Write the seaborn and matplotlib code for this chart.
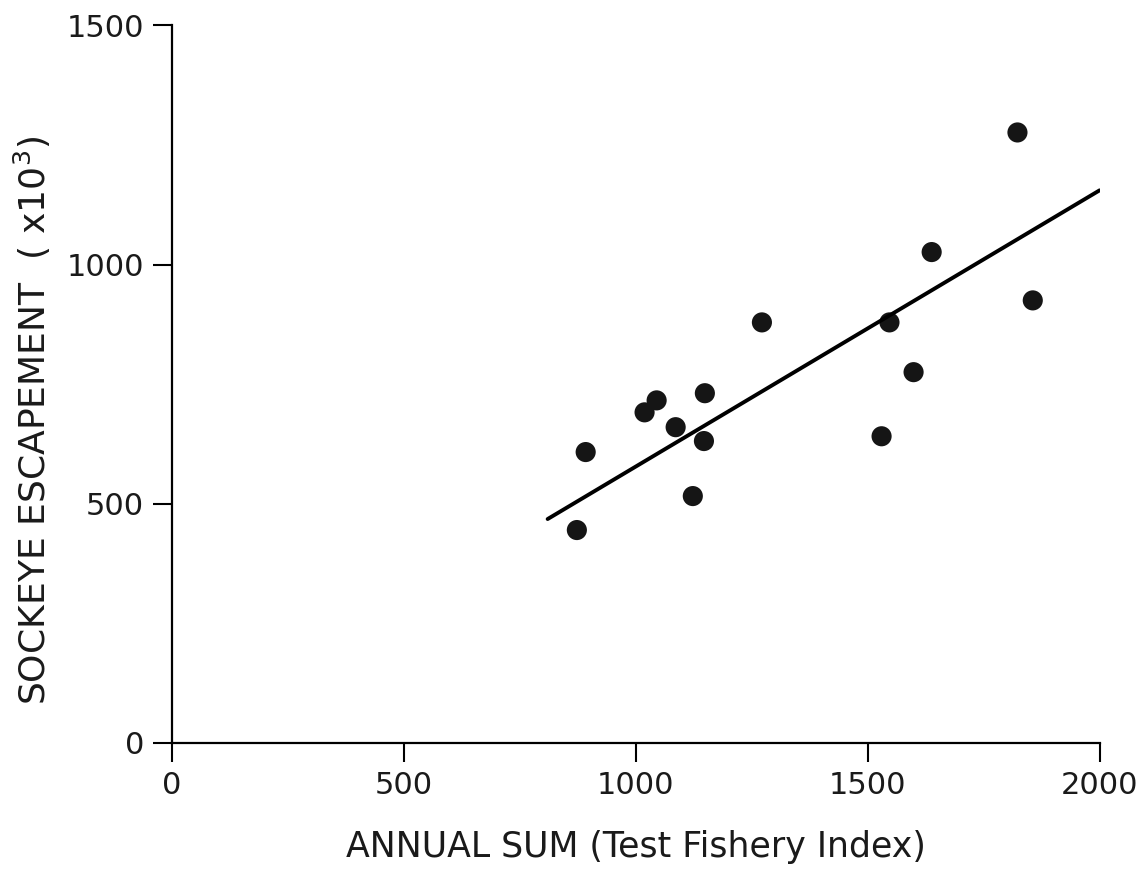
import numpy as np
import pandas as pd
import matplotlib
matplotlib.use('Agg')
import matplotlib.pyplot as plt
import seaborn as sns
from matplotlib import font_manager

# 数据
annual_sum = [873, 892, 1019, 1045, 1086, 1123, 1147, 1149, 1272, 1530, 1547, 1599, 1638, 1823, 1856]
escapement = [445, 608, 691, 716, 660, 516, 631, 731, 879, 641, 879, 775, 1026, 1276, 925]
fit_x = [810, 2000]
fit_y = [468, 1155]

x_ticks = [0, 500, 1000, 1500, 2000]
y_ticks = [0, 500, 1000, 1500]

df = pd.DataFrame({'annual_sum': annual_sum, 'escapement': escapement})
fit_df = pd.DataFrame({'x': fit_x, 'y': fit_y})

sns.set_theme(style='ticks')
names = {f.name for f in font_manager.fontManager.ttflist}
fam = 'Liberation Sans Narrow' if 'Liberation Sans Narrow' in names else 'DejaVu Sans'
plt.rcParams['font.family'] = [fam, 'DejaVu Sans']

fig = plt.figure(figsize=(11.48, 8.72), dpi=100)
ax = fig.add_axes([0.1498, 0.148, 0.808, 0.823])

# 回归线 + 散点
sns.lineplot(data=fit_df, x='x', y='y', color='black', linewidth=2.8, ax=ax)
sns.scatterplot(data=df, x='annual_sum', y='escapement', color='#151515', s=210,
                edgecolor='none', ax=ax)

ax.set_xlim(0, 2000)
ax.set_ylim(0, 1500)
ax.set_xticks(x_ticks)
ax.set_yticks(y_ticks)
ax.set_xticklabels([str(t) for t in x_ticks], fontsize=22)
ax.set_yticklabels([str(t) for t in y_ticks], fontsize=22)
ax.tick_params(length=14, width=1.5, color='black', labelcolor='#1a1a1a', pad=6)

for side in ['top', 'right']:
    ax.spines[side].set_visible(False)
for side in ['left', 'bottom']:
    ax.spines[side].set_linewidth(1.6)
    ax.spines[side].set_color('black')

ax.set_xlabel('ANNUAL SUM (Test Fishery Index)', fontsize=25, color='#1a1a1a', labelpad=22)
ax.set_ylabel('SOCKEYE ESCAPEMENT  ( x10$^3$)', fontsize=26, color='#1a1a1a')
ax.yaxis.set_label_coords(-0.128, 0.45)

fig.savefig('out.png', dpi=100, facecolor='white')
